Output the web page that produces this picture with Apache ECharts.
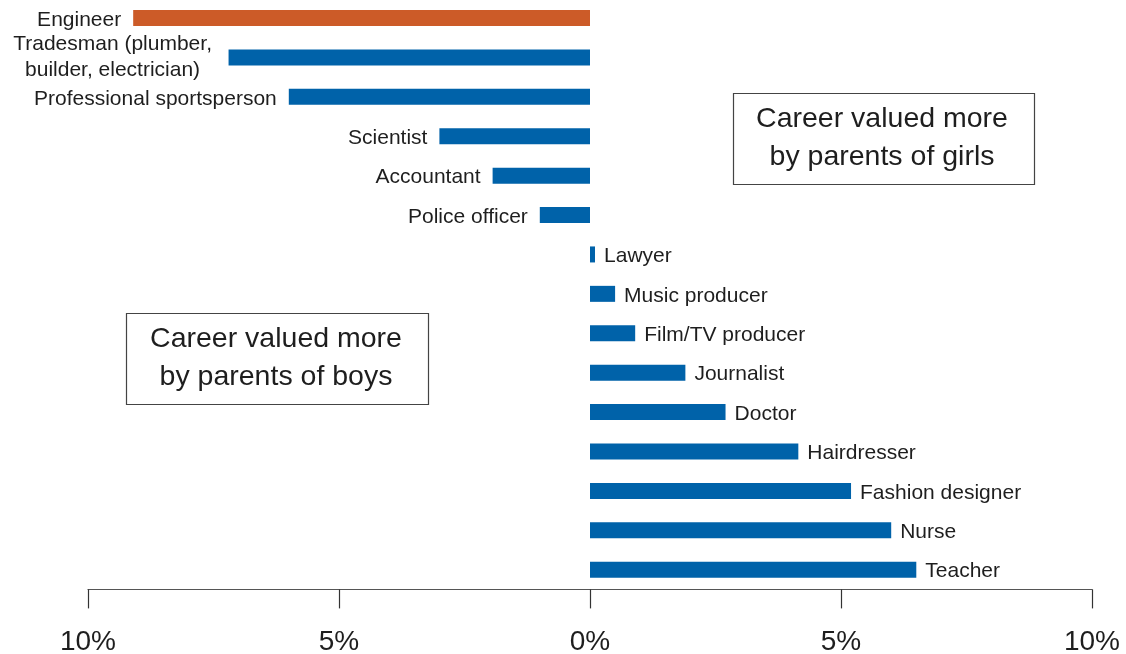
<!DOCTYPE html>
<html>
<head>
<meta charset="utf-8">
<script src="https://cdn.jsdelivr.net/npm/echarts@6/dist/echarts.min.js"></script>
<style>
  html, body { margin: 0; padding: 0; background: #fff; }
  #chart { width: 1126px; height: 654px; }
</style>
</head>
<body>
<div id="chart"></div>
<script>
// careers, top to bottom
const careers = [
  "Engineer", "Tradesman (plumber,\nbuilder, electrician)", "Professional sportsperson",
  "Scientist", "Accountant", "Police officer", "Lawyer", "Music producer",
  "Film/TV producer", "Journalist", "Doctor", "Hairdresser", "Fashion designer",
  "Nurse", "Teacher"
];
// difference in % (negative = valued more by parents of boys)
const diffs = [-9.1, -7.2, -6.0, -3.0, -1.94, -1.0, 0.1, 0.5, 0.9, 1.9, 2.7, 4.15, 5.2, 6.0, 6.5];
const highlight = "Engineer";
const xTicks = [-10, -5, 0, 5, 10];

const blue = "#0062a9";
const orange = "#cc5b28";
const textColor = "#1e1e1e";
const font = "'Liberation Sans', Arial, sans-serif";

let myChart = echarts.init(document.getElementById("chart"));

let barData = diffs.map((v, i) => {
  let item = {
    value: v,
    itemStyle: { color: careers[i] === highlight ? orange : blue },
    label: {
      show: true,
      position: v < 0 ? "left" : "right",
      distance: v < 0 ? 12 : 9,
      formatter: careers[i],
      offset: [0, 2],
    },
  };
  // two-line label is centred in the original
  if (careers[i].indexOf("\n") >= 0) {
    item.label.align = "center";
    item.label.offset = [-104, 0];
    item.label.lineHeight = 26;
  }
  return item;
});

myChart.setOption({
  animation: false,
  textStyle: { fontFamily: font },
  grid: { left: 88, right: 34, top: -1.7, bottom: 64.6, outerBoundsMode: "none", containLabel: false },
  xAxis: {
    type: "value",
    min: xTicks[0],
    max: xTicks[xTicks.length - 1],
    interval: 5,
    position: "bottom",
    splitLine: { show: false },
    axisLine: { show: true, lineStyle: { color: "#555", width: 1.2 } },
    axisTick: { show: true, length: 19, inside: false, lineStyle: { color: "#333", width: 1.2 } },
    axisLabel: {
      formatter: (v) => Math.abs(v) + "%",
      fontSize: 28,
      color: textColor,
      margin: 39,
      fontFamily: font,
    },
  },
  yAxis: {
    type: "category",
    inverse: true,
    data: careers,
    axisLine: { show: false },
    axisTick: { show: false },
    axisLabel: { show: false },
    splitLine: { show: false },
  },
  series: [
    {
      type: "bar",
      data: barData,
      barWidth: 16,
      label: { color: textColor, fontSize: 21, fontFamily: font },
    },
  ],
  graphic: [
    {
      type: "rect",
      shape: { x: 126.5, y: 313.5, width: 302, height: 91 },
      style: { fill: "#fff", stroke: "#444", lineWidth: 1.2 },
    },
    {
      type: "text",
      x: 276, y: 358.5,
      style: {
        text: "Career valued more\nby parents of boys",
        fontSize: 28.5, lineHeight: 38, fill: textColor, fontFamily: font,
        align: "center", verticalAlign: "middle",
      },
    },
    {
      type: "rect",
      shape: { x: 733.5, y: 93.5, width: 301, height: 91 },
      style: { fill: "#fff", stroke: "#444", lineWidth: 1.2 },
    },
    {
      type: "text",
      x: 882, y: 138.5,
      style: {
        text: "Career valued more\nby parents of girls",
        fontSize: 28.5, lineHeight: 38, fill: textColor, fontFamily: font,
        align: "center", verticalAlign: "middle",
      },
    },
  ],
});
</script>
</body>
</html>
